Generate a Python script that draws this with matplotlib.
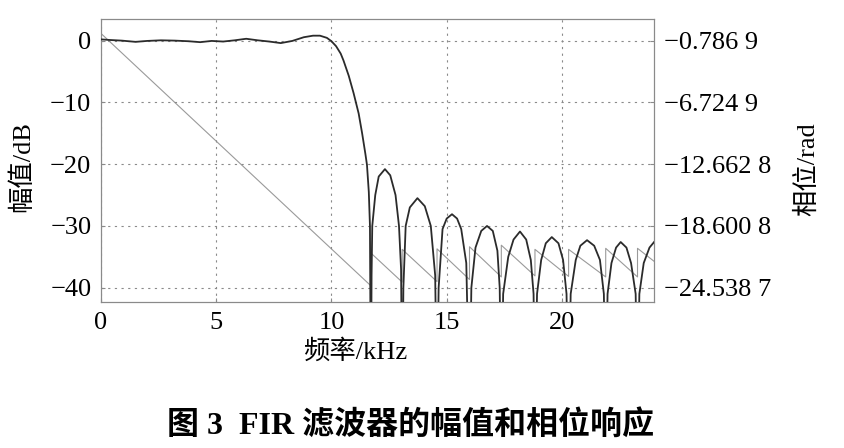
import numpy as np
import matplotlib
matplotlib.use('Agg')
import matplotlib.pyplot as plt

plt.rcParams['font.family'] = ['Liberation Serif', 'Noto Sans CJK SC']
plt.rcParams['axes.unicode_minus'] = True

# magnitude response (kHz, dB)
freq_mag = [0, 0.4, 0.9, 1.5, 2.0, 2.6, 3.2, 3.8, 4.3, 4.8, 5.3, 5.8, 6.3, 6.8,
            7.3, 7.8, 8.3, 8.8, 9.2, 9.5, 9.8, 10.0, 10.2, 10.4, 10.52, 10.75,
            10.96, 11.18, 11.33, 11.47, 11.54, 11.62, 11.67, 11.71,
            11.74, 11.77, 11.9, 12.05, 12.32, 12.55, 12.78, 12.93, 13.02, 13.07,
            13.12, 13.22, 13.4, 13.73, 14.05, 14.31, 14.5, 14.58,
            14.65, 14.82, 15.0, 15.23, 15.45, 15.63, 15.85, 15.99,
            16.07, 16.25, 16.5, 16.75, 17.0, 17.2, 17.3, 17.37,
            17.45, 17.67, 17.9, 18.18, 18.45, 18.65, 18.77, 18.83,
            18.92, 19.1, 19.3, 19.56, 19.85, 20.05, 20.2, 20.29,
            20.38, 20.6, 20.8, 21.09, 21.4, 21.65, 21.82, 21.9,
            21.98, 22.15, 22.35, 22.55, 22.8, 23.0, 23.2, 23.28,
            23.36, 23.55, 23.8, 24.0]
mag_db = [0.2, 0.1, 0.0, -0.2, -0.05, 0.05, 0.0, -0.1, -0.25, -0.05, -0.15, 0.05, 0.3, 0.05,
          -0.15, -0.4, -0.05, 0.55, 0.8, 0.8, 0.45, -0.1, -0.9, -2.1, -3.2, -5.7,
          -8.5, -11.8, -15.0, -18.3, -20.1, -24.5, -30.0, -60,
          -38, -30, -25, -22, -20.8, -21.8, -25, -30, -37, -60,
          -40, -30, -27, -25.5, -26.8, -30, -38, -60,
          -40, -30.5, -28.8, -28.1, -28.8, -30.5, -36, -60,
          -40, -33.5, -30.8, -30.0, -30.8, -34, -40, -60,
          -41, -35, -32.2, -30.9, -32.2, -35.5, -41, -60,
          -41, -35.5, -32.8, -31.8, -32.8, -35.5, -41, -60,
          -41, -35.5, -33.2, -32.3, -33.2, -35.5, -41, -60,
          -41, -36, -33.5, -32.6, -33.5, -36, -41, -60,
          -41, -36, -33.5, -32.6]

# phase response (kHz, rad), jumps of pi at the stopband zeros
freq_ph = [0, 11.71, 11.71, 13.07, 13.07, 14.58, 14.58, 15.99, 15.99, 17.37,
           17.37, 18.83, 18.83, 20.29, 20.29, 21.9, 21.9, 23.28, 23.28, 24.0]
phase_rad = [-0.1, -24.35, -21.2, -24.0, -20.85, -23.95, -20.8, -23.75, -20.6, -23.5,
             -20.45, -23.4, -20.85, -23.45, -20.85, -23.5, -20.75, -23.5, -20.75, -22.0]

db_ticks = [0, -10, -20, -30, -40]
rad_ticks = [-0.7869, -6.7249, -12.6628, -18.6008, -24.5387]
rad_labels = ['\u22120.786 9', '\u22126.724 9', '\u221212.662 8', '\u221218.600 8', '\u221224.538 7']
x_ticks = [0, 5, 10, 15, 20]

fig = plt.figure(figsize=(8.44, 4.48), dpi=100)
ax = fig.add_axes([0.1197, 0.326, 0.6553, 0.6316])
ax2 = ax.twinx()

ylo, yhi = -42.3, 3.5
ax.set_ylim(ylo, yhi)
ax.set_xlim(0, 24)
# right axis shares the grid positions of the left one
a, b = -0.7869, 0.5938
ax2.set_ylim(a + b * ylo, a + b * yhi)

ax2.plot(freq_ph, phase_rad, color='#9a9a9a', lw=0.8, zorder=2)
ax.plot(freq_mag, mag_db, color='#2b2b2b', lw=1.3, zorder=3)
ax.set_zorder(ax2.get_zorder() + 1)
ax.patch.set_visible(False)

ax.set_xticks(x_ticks)
ax.set_yticks(db_ticks)
ax2.set_yticks(rad_ticks)
ax2.set_yticklabels(rad_labels)
ax.grid(True, color='#8a8a8a', linestyle=(0, (2, 4)), lw=0.8)

for s in ax.spines.values():
    s.set_color('#8a8a8a')
    s.set_linewidth(0.8)
for s in ax2.spines.values():
    s.set_color('#8a8a8a')
    s.set_linewidth(0.8)

ax.tick_params(direction='in', length=3, color='#8a8a8a', labelsize=19, pad=7)
ax2.tick_params(direction='in', length=3, color='#8a8a8a', labelsize=19, pad=7)

ax.set_xlabel('频率/kHz', fontsize=19)
ax.xaxis.set_label_coords(0.46, -0.13)
ax.set_ylabel('幅值/dB', fontsize=19)
ax.yaxis.set_label_coords(-0.12, 0.48)
ax2.set_ylabel('相位/rad', fontsize=19)
ax2.yaxis.set_label_coords(1.255, 0.47)

fig.text(0.487, 0.051, '图 3  FIR 滤波器的幅值和相位响应', ha='center', va='center',
         fontsize=23, fontweight='bold')

fig.savefig('out.png', dpi=100)
